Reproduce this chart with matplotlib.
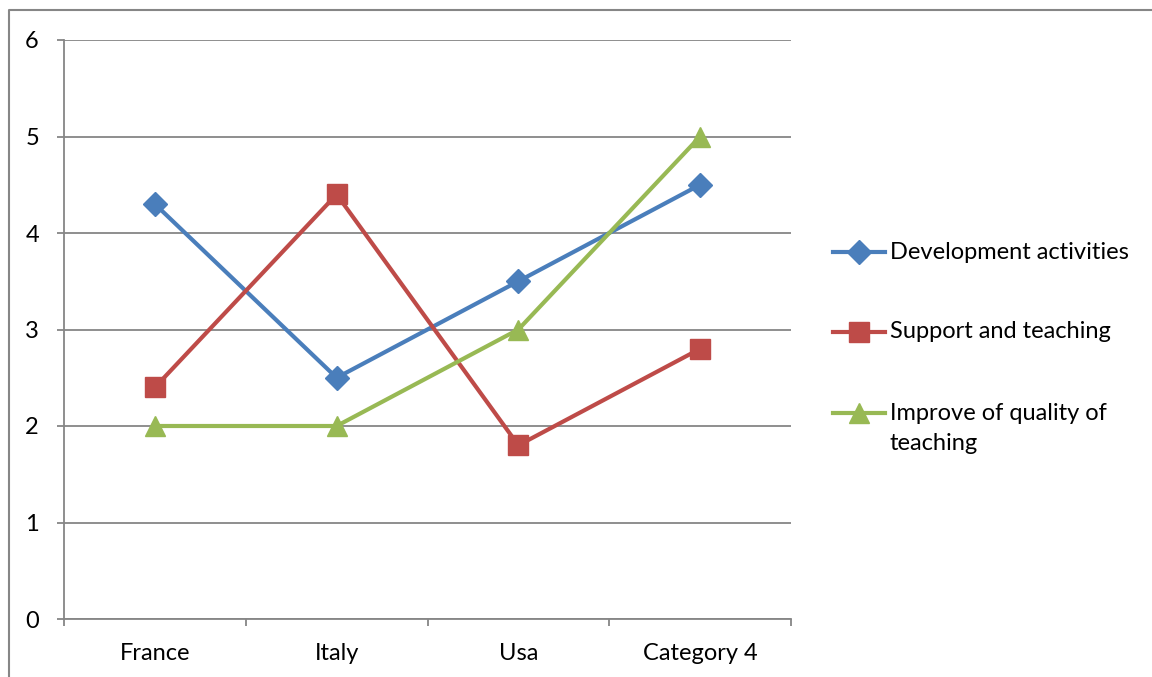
import matplotlib.pyplot as plt
from matplotlib.lines import Line2D

categories = ["France", "Italy", "Usa", "Category 4"]
development = [4.3, 2.5, 3.5, 4.5]
support = [2.4, 4.4, 1.8, 2.8]
improve = [2, 2, 3, 5]

series = [
    ("Development activities", development, "#4A7EBB", "D", 12),
    ("Support and teaching", support, "#BE4B48", "s", 14.5),
    ("Improve of quality of\nteaching", improve, "#98B954", "^", 15),
]

plt.rcParams["font.family"] = ["Lato", "DejaVu Sans"]
GRID = "#868686"
FS = 17

W, H = 1152, 677
fig = plt.figure(figsize=(W / 100, H / 100), dpi=100)
ax = fig.add_axes([64 / W, 1 - 619 / H, (791 - 64) / W, (619 - 40) / H])

x = list(range(len(categories)))
for label, vals, color, marker, ms in series:
    ax.plot(x, vals, color=color, lw=3, marker=marker, markersize=ms,
            markeredgecolor=color, solid_capstyle="round", zorder=3, clip_on=False)

ax.set_xlim(-0.5, len(categories) - 0.5)
ax.set_ylim(0, 6)
ax.set_yticks(range(0, 7))
ax.yaxis.grid(True, color=GRID, lw=1.3)
ax.set_axisbelow(True)

# category boundaries get the tick marks, labels sit between them
ax.set_xticks([i - 0.5 for i in range(len(categories) + 1)])
ax.set_xticklabels([])
ax.set_xticks(x, minor=True)
ax.set_xticklabels(categories, minor=True)
ax.tick_params(axis="x", which="minor", length=0, pad=17, labelsize=FS)
ax.tick_params(axis="x", which="major", length=5, width=1.3, color=GRID)
ax.tick_params(axis="y", length=5, width=1.3, color=GRID, pad=13, labelsize=FS)

for side in ("top", "right"):
    ax.spines[side].set_visible(False)
for side in ("left", "bottom"):
    ax.spines[side].set_color(GRID)
    ax.spines[side].set_linewidth(1.3)

# legend drawn by hand so the wrapped label keeps its handle on the first line
legend_y = [252, 332, 413]
line_gap = 31
for (label, vals, color, marker, ms), py in zip(series, legend_y):
    yf = 1 - py / H
    fig.add_artist(Line2D([833 / W, 885 / W], [yf, yf], color=color, lw=3,
                          transform=fig.transFigure))
    fig.add_artist(Line2D([859 / W], [yf], color=color, marker=marker,
                          markersize=ms, markeredgecolor=color,
                          transform=fig.transFigure))
    for k, part in enumerate(label.split("\n")):
        fig.text(890 / W, 1 - (py + k * line_gap) / H, part, fontsize=FS,
                 va="center", ha="left")

# chart border
fig.add_artist(Line2D([9 / W, 9 / W, 1.0], [0, 1 - 10 / H, 1 - 10 / H],
                      color=GRID, lw=1.5, transform=fig.transFigure))

fig.savefig("out.png", dpi=100)
